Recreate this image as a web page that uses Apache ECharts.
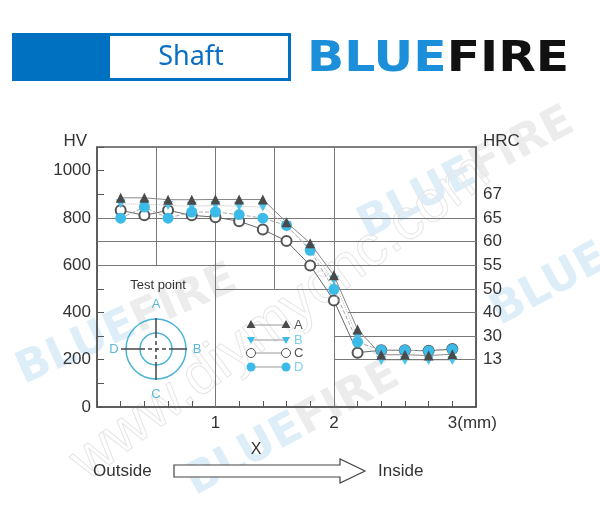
<!DOCTYPE html>
<html><head><meta charset="utf-8">
<script src="https://cdn.jsdelivr.net/npm/echarts@6/dist/echarts.min.js"></script>
<style>html,body{margin:0;padding:0;background:#fff}#c{width:600px;height:509px}</style>
</head><body><div id="c"></div>
<script>
// ---- data ----
const depthMm = [0.2, 0.4, 0.6, 0.8, 1.0, 1.2, 1.4, 1.6, 1.8, 2.0, 2.2, 2.4, 2.6, 2.8, 3.0];
const seriesA = [885, 885, 877, 877, 878, 878, 878, 782, 693, 557, 328, 221, 221, 218, 223];
const seriesB = [860, 858, 853, 849, 853, 849, 846, 768, 670, 536, 296, 197, 197, 197, 197];
const seriesC = [832, 811, 832, 811, 803, 786, 751, 702, 599, 451, 230, 240, 240, 238, 245];
const seriesD = [799, 846, 799, 825, 825, 814, 799, 768, 663, 498, 275, 240, 240, 237, 244];
const seriesNames = ['A', 'B', 'C', 'D'];
const hrcValues = [200, 300, 400, 500, 600, 700, 800, 900];
const hrcLabels = ['13', '30', '40', '50', '55', '60', '65', '67'];
const xLabelValues = [1, 2, 3];
const xLabelTexts = ['1', '2', '3(mm)'];

const FONT = 'Liberation Sans, Arial, sans-serif';
const chart = echarts.init(document.getElementById('c'), null, {renderer: 'canvas'});

const pairs = arr => depthMm.map((x, i) => [x, arr[i]]);

// irregular background grid segments (data space)
const gridSegs = [
  [[0.5, 1100], [0.5, 600]],
  [[1, 1100], [1, 0]],
  [[1.5, 1100], [1.5, 500]],
  [[2, 1100], [2, 0]],
  [[0, 800], [3.2, 800]],
  [[0, 700], [3.2, 700]],
  [[0, 600], [3.2, 600]],
  [[1, 500], [3.2, 500]],
  [[2.12, 400], [3.2, 400]],
  [[2, 300], [3.2, 300]],
  [[2, 200], [3.2, 200]]
];

const blue = '#3dbbe8';
const dark = '#4a4a4a';

// legend graphic
const legY = [325, 340, 353, 367];
const legendEls = [];
seriesNames.forEach((n, i) => {
  const y = legY[i];
  legendEls.push({type: 'line', shape: {x1: 251, y1: y, x2: 286, y2: y}, style: {stroke: '#999', lineWidth: 1.2}});
  [251, 286].forEach(x => {
    if (i === 0) legendEls.push({type: 'polygon', shape: {points: [[x, y - 5], [x - 4.5, y + 3], [x + 4.5, y + 3]]}, style: {fill: dark}});
    if (i === 1) legendEls.push({type: 'polygon', shape: {points: [[x, y + 4], [x - 4, y - 3], [x + 4, y - 3]]}, style: {fill: blue}});
    if (i === 2) legendEls.push({type: 'circle', shape: {cx: x, cy: y, r: 4.5}, style: {fill: '#fff', stroke: '#555', lineWidth: 1}});
    if (i === 3) legendEls.push({type: 'circle', shape: {cx: x, cy: y, r: 4.5}, style: {fill: blue}});
  });
  legendEls.push({type: 'text', x: 294, y: y, style: {text: n, fill: (i % 2 ? '#7fd0ee' : '#555'), font: '13px ' + FONT, textVerticalAlign: 'middle'}});
});

// faint watermarks
const wmRich = {
  b: {fill: '#deeef9', font: 'bold 44px DejaVu Sans'},
  f: {fill: '#ececec', font: 'bold 44px DejaVu Sans'}
};
const watermarks = [
  {type: 'text', x: 28, y: 394, rotation: 0.42, silent: true, z: -10,
   style: {text: '{b|BLUE}{f|FIRE}', textVerticalAlign: 'bottom', rich: wmRich}},
  {type: 'text', x: 372, y: 248, rotation: 0.48, silent: true, z: -10,
   style: {text: '{b|BLUE}{f|FIRE}', textVerticalAlign: 'bottom', rich: wmRich}},
  {type: 'text', x: 505, y: 335, rotation: 0.5, silent: true, z: -10,
   style: {text: '{b|BLUE}', textVerticalAlign: 'bottom', rich: wmRich}},
  {type: 'text', x: 200, y: 505, rotation: 0.5, silent: true, z: -10,
   style: {text: '{b|BLUE}{f|FIRE}', textVerticalAlign: 'bottom', rich: wmRich}},
  {type: 'text', x: 95, y: 492, rotation: 0.64, silent: true, z: -10,
   style: {text: 'www.diymycnc.com', fill: 'none', stroke: '#e6e6e6', lineWidth: 1, font: '58px ' + FONT, textVerticalAlign: 'bottom'}}
];

const tpc = '#4ab3d6';
const crossSt = {stroke: '#444', lineWidth: 1.5};
const crossDash = {stroke: '#444', lineWidth: 1.5, lineDash: [4, 3]};

const option = {
  animation: false,
  backgroundColor: '#fff',
  grid: {left: 97, right: 124, top: 147, bottom: 102, show: true, borderColor: '#555', borderWidth: 1.5},
  xAxis: {
    type: 'value', min: 0, max: 3.2, interval: 0.2,
    axisLine: {show: true, lineStyle: {color: '#555', width: 1.5}},
    axisTick: {show: true, inside: true, length: 6, lineStyle: {color: '#555'}},
    splitLine: {show: false},
    axisLabel: {
      margin: 8, color: '#333', fontSize: 17, fontFamily: FONT,
      formatter: v => {
        const k = xLabelValues.findIndex(t => Math.abs(t - v) < 1e-6);
        if (k < 0) return '';
        return k === 2 ? '{m|' + xLabelTexts[k] + '}' : xLabelTexts[k];
      },
      rich: {m: {padding: [0, 0, 0, 40], fontSize: 17, color: '#333', fontFamily: FONT}}
    }
  },
  yAxis: [{
    type: 'value', min: 0, max: 1100, interval: 100, position: 'left',
    name: 'HV', nameLocation: 'end', nameGap: 6,
    nameTextStyle: {align: 'right', verticalAlign: 'middle', padding: [0, 10, 0, 0], fontSize: 17, color: '#333', fontFamily: FONT},
    axisLine: {show: true, lineStyle: {color: '#555', width: 1.5}},
    axisTick: {show: true, inside: true, length: 7, lineStyle: {color: '#555'}},
    splitLine: {show: false},
    axisLabel: {margin: 6, color: '#333', fontSize: 17, fontFamily: FONT,
      formatter: v => (v % 200 === 0 && v <= 1000) ? String(v) : ''}
  }, {
    type: 'value', min: 0, max: 1100, interval: 100, position: 'right',
    name: 'HRC', nameLocation: 'end', nameGap: 6,
    nameTextStyle: {align: 'left', verticalAlign: 'middle', padding: [0, 0, 0, 7], fontSize: 17, color: '#333', fontFamily: FONT},
    axisLine: {show: true, lineStyle: {color: '#555', width: 1.5}},
    axisTick: {show: false},
    splitLine: {show: false},
    axisLabel: {margin: 7, color: '#333', fontSize: 17, fontFamily: FONT,
      formatter: v => { const k = hrcValues.indexOf(v); return k < 0 ? '' : hrcLabels[k]; }}
  }],
  series: [
    {type: 'lines', coordinateSystem: 'cartesian2d', silent: true, z: 1,
     lineStyle: {color: '#777', width: 1, opacity: 1},
     data: gridSegs.map(s => ({coords: s}))},
    {name: 'C', type: 'line', data: pairs(seriesC), symbol: 'emptyCircle', symbolSize: 10, z: 3,
     itemStyle: {color: '#555', borderWidth: 1}, lineStyle: {color: '#666', width: 1}},
    {name: 'B', type: 'line', data: pairs(seriesB), symbol: 'triangle', symbolRotate: 180, symbolSize: [10, 9], z: 4,
     itemStyle: {color: '#4dc4ec'}, lineStyle: {color: '#bbb', width: 1, type: 'dotted'}},
    {name: 'D', type: 'line', data: pairs(seriesD), symbol: 'circle', symbolSize: 11, z: 5,
     itemStyle: {color: blue}, lineStyle: {color: '#aaa', width: 1, type: 'dashed'}},
    {name: 'A', type: 'line', data: pairs(seriesA), symbol: 'triangle', symbolSize: [10, 10], z: 6,
     itemStyle: {color: dark}, lineStyle: {color: '#888', width: 1}}
  ],
  graphic: [
    ...watermarks,
    // header
    {type: 'rect', shape: {x: 12, y: 33, width: 279, height: 48}, style: {fill: '#0070c0'}},
    {type: 'rect', shape: {x: 110, y: 36, width: 178, height: 42}, style: {fill: '#fff'}},
    {type: 'text', x: 191, y: 57, style: {text: 'Shaft', fill: '#0a6fc2', font: '27px Noto Sans, ' + FONT, textAlign: 'center', textVerticalAlign: 'middle'}},
    {type: 'text', x: 307, y: 60, scaleX: 1.11, scaleY: 0.95, originX: 0, originY: 0,
     style: {text: '{b|BLUE}{f|FIRE}', textVerticalAlign: 'middle',
      rich: {b: {fill: '#1b8fd9', font: 'bold 44px DejaVu Sans'}, f: {fill: '#111', font: 'bold 44px DejaVu Sans'}}}},
    // test point diagram
    {type: 'text', x: 158, y: 285, style: {text: 'Test point', fill: '#333', font: '13px ' + FONT, textAlign: 'center', textVerticalAlign: 'middle'}},
    {type: 'circle', shape: {cx: 156, cy: 349, r: 30}, style: {fill: 'none', stroke: tpc, lineWidth: 1.5}},
    {type: 'circle', shape: {cx: 156, cy: 349, r: 16}, style: {fill: 'none', stroke: tpc, lineWidth: 1.5}},
    {type: 'line', shape: {x1: 156, y1: 318, x2: 156, y2: 334}, style: crossSt},
    {type: 'line', shape: {x1: 156, y1: 364, x2: 156, y2: 380}, style: crossSt},
    {type: 'line', shape: {x1: 156, y1: 334, x2: 156, y2: 364}, style: crossDash},
    {type: 'line', shape: {x1: 121, y1: 349, x2: 141, y2: 349}, style: crossSt},
    {type: 'line', shape: {x1: 171, y1: 349, x2: 187, y2: 349}, style: crossSt},
    {type: 'line', shape: {x1: 141, y1: 349, x2: 171, y2: 349}, style: crossDash},
    {type: 'text', x: 156, y: 304, style: {text: 'A', fill: '#5bbbd9', font: '13px ' + FONT, textAlign: 'center', textVerticalAlign: 'middle'}},
    {type: 'text', x: 197, y: 349, style: {text: 'B', fill: '#5bbbd9', font: '13px ' + FONT, textAlign: 'center', textVerticalAlign: 'middle'}},
    {type: 'text', x: 156, y: 394, style: {text: 'C', fill: '#5bbbd9', font: '13px ' + FONT, textAlign: 'center', textVerticalAlign: 'middle'}},
    {type: 'text', x: 114, y: 349, style: {text: 'D', fill: '#5bbbd9', font: '13px ' + FONT, textAlign: 'center', textVerticalAlign: 'middle'}},
    // legend
    {type: 'group', children: legendEls},
    // bottom annotation
    {type: 'text', x: 256, y: 450, style: {text: 'X', fill: '#333', font: '16px ' + FONT, textAlign: 'center', textVerticalAlign: 'middle'}},
    {type: 'text', x: 93, y: 471, style: {text: 'Outside', fill: '#333', font: '17px ' + FONT, textVerticalAlign: 'middle'}},
    {type: 'text', x: 378, y: 471, style: {text: 'Inside', fill: '#333', font: '17px ' + FONT, textVerticalAlign: 'middle'}},
    {type: 'polygon', shape: {points: [[174, 465], [340, 465], [340, 459], [365, 471], [340, 483], [340, 477], [174, 477]]},
     style: {fill: '#fff', stroke: '#444', lineWidth: 1.2}}
  ]
};
chart.setOption(option);
</script>
</body></html>
